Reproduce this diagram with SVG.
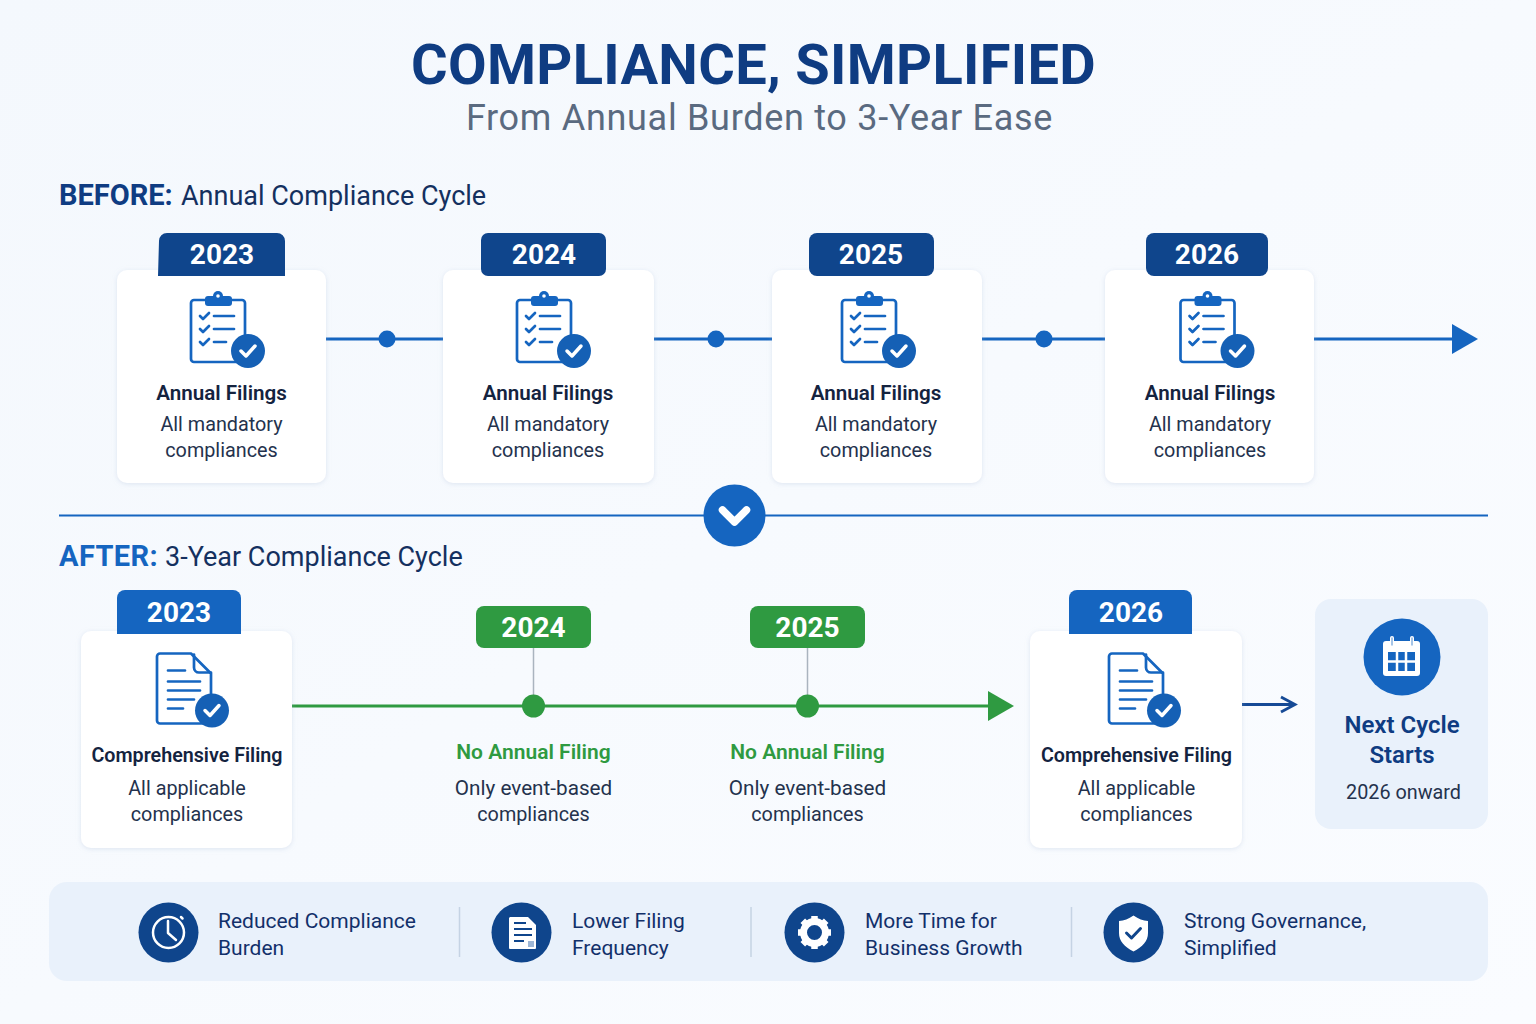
<svg xmlns="http://www.w3.org/2000/svg" width="1536" height="1024" viewBox="0 0 1536 1024">
<style>
text{font-family:Roboto,"Liberation Sans",sans-serif}
.m{text-anchor:middle}
.card{fill:#fff;filter:url(#sh)}
.yr{fill:#fff;font-size:28px;font-weight:700;text-anchor:middle}
.t{fill:#14233f;font-size:20.600px;font-weight:600;text-anchor:middle}
.ct{fill:#14233f;font-size:19.700px;font-weight:600;text-anchor:middle}
.s{fill:#24324d;font-size:19.800px;text-anchor:middle}
.e{fill:#24324d;font-size:20.700px;text-anchor:middle}
.g{fill:#2f9a41;font-size:21px;font-weight:600;text-anchor:middle}
.h{font-size:27px;fill:#14305f}
.hb{font-size:29px;font-weight:700;fill:#0f3c82}
.ha{font-size:29px;font-weight:700;fill:#1565c0;letter-spacing:.4px}
.b{fill:#12306a;font-size:21px}
.ln{fill:none;stroke:#1565c0;stroke-width:2.700;stroke-linecap:round;stroke-linejoin:round}
.gl{stroke:#2f9a41;stroke-width:3;fill:none}
.wl{fill:none;stroke:#fff;stroke-linecap:round;stroke-linejoin:round}
.sep{stroke:#c5d3e4;stroke-width:1.500}
</style>
<defs>
<linearGradient id="bg" x1="0" y1="0" x2="1" y2="1"><stop offset="0" stop-color="#f4f8fd"/><stop offset="1" stop-color="#fafcff"/></linearGradient>
<filter id="sh" x="-10%" y="-10%" width="120%" height="120%"><feDropShadow dx="0" dy="1" stdDeviation="2.500" flood-color="#9fb4d0" flood-opacity=".3"/></filter>
<symbol id="clip" overflow="visible">
<rect x="1" y="9" width="54" height="62" rx="3" fill="#fff" class="ln"/>
<rect x="15" y="5" width="27" height="10" rx="3" fill="#1565c0"/>
<circle cx="28" cy="5" r="5" fill="#1565c0"/><circle cx="28" cy="5" r="1.800" fill="#fff"/>
<path class="ln" d="M10 25l3 3 6-6M24 25h20M10 38l3 3 6-6M24 38h20M10 51l3 3 6-6M24 51h12"/>
<circle cx="58" cy="60" r="17" fill="#1560b5"/><path class="wl" stroke-width="3.500" d="M51 60l5 5 9-10"/>
</symbol>
<symbol id="doc" overflow="visible">
<path class="ln" fill="#fff" d="M4 0h31l20 20v47a3 3 0 0 1-3 3H4a3 3 0 0 1-3-3V3a3 3 0 0 1 3-3z"/>
<path class="ln" d="M38 1v13a5 5 0 0 0 5 5h12M12 17h17M12 28h32M12 37h32M12 46h26M12 55h15"/>
<circle cx="56" cy="57" r="17" fill="#1560b5"/><path class="wl" stroke-width="3.500" d="M49 57l5 5 9-10"/>
</symbol>
</defs>
<rect width="1536" height="1024" fill="url(#bg)"/>
<g id="title">
<text class="m" x="753.500" y="84" font-size="56" font-weight="700" fill="#0f3c82" letter-spacing=".3">COMPLIANCE, SIMPLIFIED</text>
<text class="m" x="759.500" y="130" font-size="36" fill="#5a6a80" letter-spacing=".7">From Annual Burden to 3-Year Ease</text>
</g>
<text id="before-heading" class="h" x="59" y="205"><tspan class="hb">BEFORE: </tspan><tspan x="181">Annual Compliance Cycle</tspan></text>
<text id="after-heading" class="h" x="59" y="566"><tspan class="ha">AFTER: </tspan><tspan x="165">3-Year Compliance Cycle</tspan></text>
<g id="connectors">
<path d="M326 339H1455" stroke="#1565c0" stroke-width="3" fill="none"/>
<path d="M1452 324l26 15-26 15z" fill="#1565c0"/>
<circle cx="387" cy="339" r="8.500" fill="#1565c0"/><circle cx="716" cy="339" r="8.500" fill="#1565c0"/><circle cx="1044" cy="339" r="8.500" fill="#1565c0"/>
<path d="M59 515.500H1488" stroke="#1565c0" stroke-width="1.800" fill="none"/>
<path class="gl" d="M292 706H990"/>
<path d="M988 691l26 15-26 15z" fill="#2f9a41"/>
<path d="M533.500 648V695M807.500 648V695" stroke="#aab4bf" stroke-width="1.500"/>
<circle cx="533.500" cy="706" r="11.500" fill="#2f9a41"/><circle cx="807.500" cy="706" r="11.500" fill="#2f9a41"/>
<path d="M1242 704.500H1294M1281 697l14 7.500-14 7.500" fill="none" stroke="#164a96" stroke-width="2.800"/>
</g>
<g id="divider-button"><circle cx="734.500" cy="515.500" r="31" fill="#1565c0"/><path class="wl" stroke-width="7.500" d="M722.500 510l12 12 12-12"/></g>
<g id="before-2023"><rect class="card" x="117" y="270" width="209" height="213" rx="10"/><path d="M167 233h110a8 8 0 0 1 8 8v35H158l1-35a8 8 0 0 1 8-8z" fill="#0f458c"/><text class="yr" x="222" y="264">2023</text><use href="#clip" x="190" y="291"/><text class="t" x="221.500" y="400">Annual Filings</text><text class="s" x="221.500" y="431">All mandatory</text><text class="s" x="221.500" y="457">compliances</text></g>
<g id="before-2024"><rect class="card" x="443" y="270" width="211" height="213" rx="10"/><rect x="481" y="233" width="125" height="43" rx="7" fill="#0f458c"/><text class="yr" x="544" y="264">2024</text><use href="#clip" x="516" y="291"/><text class="t" x="548" y="400">Annual Filings</text><text class="s" x="548" y="431">All mandatory</text><text class="s" x="548" y="457">compliances</text></g>
<g id="before-2025"><rect class="card" x="772" y="270" width="210" height="213" rx="10"/><rect x="809" y="233" width="125" height="43" rx="8" fill="#0f458c"/><text class="yr" x="871" y="264">2025</text><use href="#clip" x="841" y="291"/><text class="t" x="876" y="400">Annual Filings</text><text class="s" x="876" y="431">All mandatory</text><text class="s" x="876" y="457">compliances</text></g>
<g id="before-2026"><rect class="card" x="1105" y="270" width="209" height="213" rx="10"/><rect x="1146" y="233" width="122" height="43" rx="8" fill="#0f458c"/><text class="yr" x="1207" y="264">2026</text><use href="#clip" x="1179.500" y="291"/><text class="t" x="1210" y="400">Annual Filings</text><text class="s" x="1210" y="431">All mandatory</text><text class="s" x="1210" y="457">compliances</text></g>
<g id="after-2023"><rect class="card" x="81" y="631" width="211" height="217" rx="10"/><path d="M117 634V598a8 8 0 0 1 8-8h108a8 8 0 0 1 8 8v36z" fill="#1565c0"/><text class="yr" x="179" y="622">2023</text><use href="#doc" x="156" y="653.500"/><text class="ct" x="187" y="762">Comprehensive Filing</text><text class="s" x="187" y="795">All applicable</text><text class="s" x="187" y="821">compliances</text></g>
<g id="after-2024"><rect x="476" y="606" width="115" height="42" rx="8" fill="#2f9a41"/><text class="yr" x="533.500" y="637">2024</text><text class="g" x="533.500" y="759">No Annual Filing</text><text class="e" x="533.500" y="795">Only event-based</text><text class="s" x="533.500" y="821">compliances</text></g>
<g id="after-2025"><rect x="750" y="606" width="115" height="42" rx="8" fill="#2f9a41"/><text class="yr" x="807.500" y="637">2025</text><text class="g" x="807.500" y="759">No Annual Filing</text><text class="e" x="807.500" y="795">Only event-based</text><text class="s" x="807.500" y="821">compliances</text></g>
<g id="after-2026"><rect class="card" x="1030" y="631" width="212" height="217" rx="10"/><path d="M1069 634V598a8 8 0 0 1 8-8h107a8 8 0 0 1 8 8v36z" fill="#1565c0"/><text class="yr" x="1131" y="622">2026</text><use href="#doc" x="1108" y="653.500"/><text class="ct" x="1136.500" y="762">Comprehensive Filing</text><text class="s" x="1136.500" y="795">All applicable</text><text class="s" x="1136.500" y="821">compliances</text></g>
<g id="next-cycle"><rect x="1315" y="599" width="173" height="230" rx="16" fill="#e9f1fb"/><circle cx="1402" cy="657" r="38.500" fill="#1565c0"/>
<rect x="1383" y="641" width="37" height="35" rx="3" fill="#fff"/>
<path d="M1392 638v8M1412 638v8" stroke="#fff" stroke-width="4" stroke-linecap="round"/><path d="M1392 638v7M1412 638v7" stroke="#1565c0" stroke-width="1.500" stroke-linecap="round" opacity=".5"/>
<rect x="1388" y="652" width="27" height="19" fill="#1565c0"/><path d="M1397 652v19M1406 652v19M1388 661.500h27" stroke="#fff" stroke-width="2.500"/>
<text class="m" x="1402" y="733" font-size="24" font-weight="600" fill="#0f3c82">Next Cycle</text><text class="m" x="1402" y="763" font-size="24" font-weight="600" fill="#0f3c82">Starts</text><text class="s" x="1403.500" y="799">2026 onward</text></g>
<g id="benefits"><rect x="49" y="882" width="1439" height="99" rx="18" fill="#e9f1fb"/>
<path class="sep" d="M459.500 907v50M751 907v50M1071.500 907v50"/></g>
<g id="benefit-burden"><circle cx="168.500" cy="932.500" r="30" fill="#0f458c"/><circle cx="168.500" cy="932.500" r="15.500" fill="none" stroke="#fff" stroke-width="2.500"/><path class="wl" stroke-width="2.500" d="M168 921v12l8 7M181 917l1.500 1.500"/><text class="b" x="218" y="927.500">Reduced Compliance</text><text class="b" x="218" y="954.500">Burden</text></g>
<g id="benefit-frequency"><circle cx="521.500" cy="932.500" r="30" fill="#0f458c"/><path d="M510 917h18l8 8v23a1 1 0 0 1-1 1h-25a1 1 0 0 1-1-1v-30z" fill="#fff"/><path d="M514 923h12M514 929h18M514 935h18M514 941h10" stroke="#0f458c" stroke-width="2" fill="none"/><rect x="528" y="941" width="6" height="6" fill="#9db6d6"/><text class="b" x="572" y="927.500">Lower Filing</text><text class="b" x="572" y="954.500">Frequency</text></g>
<g id="benefit-time"><circle cx="814.500" cy="932.500" r="30" fill="#0f458c"/><circle cx="814.500" cy="932.500" r="11" fill="none" stroke="#fff" stroke-width="7"/><path d="M814.500 916v8M814.500 941v8M798 932.500h8M823 932.500h8M802.800 920.800l5.500 5.500M820.700 938.700l5.500 5.500M826.200 920.800l-5.500 5.500M808.300 938.700l-5.500 5.500" stroke="#fff" stroke-width="6.500"/><text class="b" x="865" y="927.500">More Time for</text><text class="b" x="865" y="954.500">Business Growth</text></g>
<g id="benefit-governance"><circle cx="1133.500" cy="932.500" r="30" fill="#0f458c"/><path d="M1133.500 915.500c5 3.500 9.500 5 14.500 5.500v12c0 8-5.500 14-14.500 18.500-9-4.500-14.500-10.500-14.500-18.500v-12c5-.5 9.500-2 14.500-5.500z" fill="#fff"/><path d="M1126.500 933l5 5 9-9.500" fill="none" stroke="#0f458c" stroke-width="3" stroke-linecap="round" stroke-linejoin="round"/><text class="b" x="1184" y="927.500">Strong Governance,</text><text class="b" x="1184" y="954.500">Simplified</text></g>
</svg>
